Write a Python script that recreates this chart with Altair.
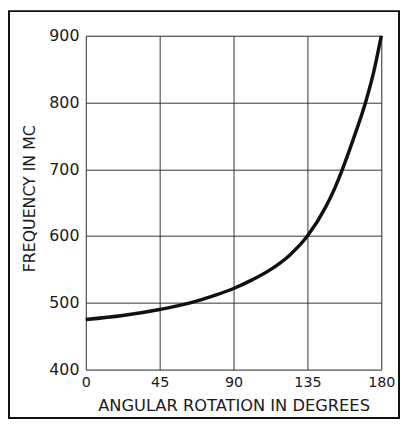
import altair as alt
import pandas as pd

# Curve
rotation_deg = [0, 22.5, 45, 63, 79, 90, 101, 112, 124, 135, 146, 151, 156.3, 163.5, 170.4, 175.5, 180]
frequency_mc = [475, 481, 490, 499.5, 511.5, 521.5, 534, 549, 571, 600, 643, 668, 700, 749, 800, 847, 900]

x_ticks = [0, 45, 90, 135, 180]
y_ticks = [400, 500, 600, 700, 800, 900]

df = pd.DataFrame({"deg": rotation_deg, "mc": frequency_mc})

FONT = "DejaVu Sans"
INK = "#1a1a1a"

curve = alt.Chart(df).mark_line(
    color="#111111", strokeWidth=3.5, interpolate="monotone"
).encode(
    x=alt.X(
        "deg:Q",
        scale=alt.Scale(domain=[0, 180], nice=False, zero=False),
        axis=alt.Axis(
            values=x_ticks, title="ANGULAR ROTATION IN DEGREES",
            grid=True, gridColor="#333333", gridWidth=1, gridOpacity=1,
            ticks=False, domain=False, labelPadding=6,
            labelFont=FONT, labelFontSize=14.5, labelColor=INK,
            labelFlush=False,
            titleFont=FONT, titleFontSize=16.5, titleFontWeight="normal", titleColor=INK,
            titleBaseline="alphabetic", titleY=41,
        ),
    ),
    y=alt.Y(
        "mc:Q",
        scale=alt.Scale(domain=[400, 900], nice=False, zero=False),
        axis=alt.Axis(
            values=y_ticks, title="FREQUENCY IN MC",
            grid=True, gridColor="#333333", gridWidth=1, gridOpacity=1,
            ticks=False, domain=False, labelPadding=7,
            labelFont=FONT, labelFontSize=16, labelColor=INK,
            labelFlush=False,
            titleFont=FONT, titleFontSize=16, titleFontWeight="normal", titleColor=INK,
            titleAngle=-90, titleAlign="center", titleBaseline="middle",
            titleX=-57, titleY=165,
        ),
    ),
)

# outer frame of the figure (decoration)
frame = alt.Chart(pd.DataFrame({"a": [0]})).mark_rect(
    fill=None, stroke="#111111", strokeWidth=2
).encode(
    x=alt.value(-78), x2=alt.value(318), y=alt.value(-25), y2=alt.value(388)
)

chart = alt.layer(curve, frame).properties(
    width=300, height=339,
    autosize=alt.AutoSizeParams(type="none"),
    padding={"left": 79, "top": 25, "right": 19, "bottom": 50},
).configure_view(
    stroke="#222222", strokeWidth=1.5
).configure(background="white")

chart.save("out.html", embed_options={"renderer": "svg", "actions": False})
